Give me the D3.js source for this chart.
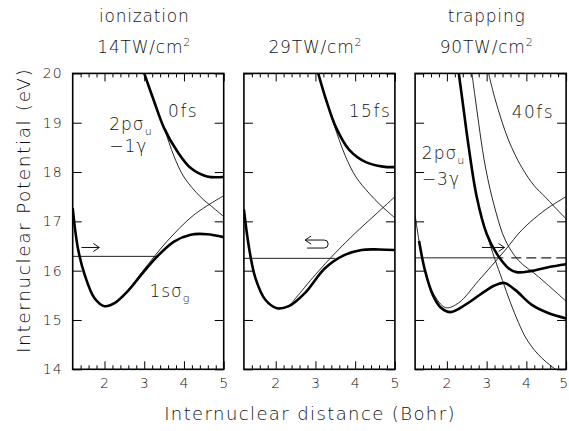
<!DOCTYPE html>
<html>
<head>
<meta charset="utf-8">
<script src="https://cdn.jsdelivr.net/npm/d3@7"></script>
<style>
  body { margin: 0; background: #fff; }
  svg text { font-family: "DejaVu Sans", sans-serif; font-weight: 200; fill: #111; }
</style>
</head>
<body>
<div id="chart"></div>
<script>
// --- data: [R (Bohr), E (eV)] ---
const headings = ["ionization", "", "trapping"];
const intensities = ["14", "29", "90"];
const times = ["0fs", "15fs", "40fs"];
const timeAnchors = [[3.6, 19.12], [3.84, 19.12], [3.63, 19.1]];
const xMajorTicks = [2, 3, 4, 5];
const xMinorTicks = [1.4, 1.6, 1.8, 2.2, 2.4, 2.6, 2.8, 3.2, 3.4, 3.6, 3.8, 4.2, 4.4, 4.6, 4.8];
const yTicks = [14, 15, 16, 17, 18, 19, 20];

// 14 TW/cm2, 0 fs
const lower14 = [[1.2,17.27],[1.33,16.46],[1.5,15.92],[1.75,15.44],[2.0,15.28],[2.25,15.34],[2.58,15.58],[3.0,15.99],[3.33,16.29],[3.75,16.59],[4.17,16.73],[4.58,16.74],[5.0,16.68]];
const upper14 = [[3.0,20.0],[3.25,19.43],[3.5,18.89],[3.83,18.42],[4.17,18.08],[4.58,17.91],[5.0,17.9]];
const sigmaU14 = [[3.0,20.0],[3.25,19.43],[3.5,18.89],[3.75,18.32],[4.0,17.9],[4.41,17.5],[4.7,17.3],[5.0,17.1]];
const sigmaG14 = [[2.0,15.28],[2.25,15.34],[2.58,15.6],[3.0,16.03],[3.58,16.6],[4.25,17.13],[5.0,17.52]];

// 29 TW/cm2, 15 fs
const lower29 = [[1.2,17.24],[1.33,16.46],[1.49,15.85],[1.74,15.41],[2.03,15.24],[2.33,15.28],[2.74,15.55],[3.24,16.05],[3.74,16.32],[4.16,16.42],[4.6,16.43],[5.0,16.42]];
const upper29 = [[3.07,20.0],[3.27,19.46],[3.52,18.9],[3.85,18.45],[4.27,18.2],[4.7,18.11],[5.0,18.1]];
const sigmaU29 = [[3.07,20.0],[3.27,19.46],[3.45,19.0],[3.75,18.33],[4.02,17.9],[4.35,17.57],[4.65,17.32],[5.0,17.07]];
const sigmaG29 = [[2.03,15.24],[2.33,15.29],[2.5,15.44],[3.0,15.92],[3.5,16.36],[4.0,16.76],[4.5,17.13],[5.0,17.5]];

// 90 TW/cm2, 40 fs
const lower90 = [[1.3,16.6],[1.45,16.0],[1.65,15.5],[1.85,15.25],[2.09,15.16],[2.47,15.31],[2.88,15.54],[3.2,15.7],[3.45,15.75],[3.72,15.61],[4.13,15.31],[4.55,15.14],[5.0,15.03]];
const upper90 = [[2.3,20.0],[2.4,19.4],[2.55,18.5],[2.75,17.5],[3.0,16.75],[3.25,16.35],[3.55,16.05],[3.75,15.97],[4.1,15.99],[4.55,16.07],[5.0,16.13]];
const sigmaU3g90 = [[2.3,20.0],[2.4,19.4],[2.55,18.5],[2.75,17.5],[3.0,16.75],[3.2,16.25],[3.4,15.8],[3.6,15.35],[3.8,14.95],[4.0,14.62],[4.3,14.3],[4.7,14.02],[5.0,13.88]];
const sigmaU2g90 = [[2.63,20.0],[2.72,19.46],[2.97,18.1],[3.22,17.23],[3.47,16.62],[3.8,16.21],[4.3,15.88],[5.0,15.38]];
const sigmaU1g90 = [[3.05,20.0],[3.22,19.46],[3.55,18.65],[3.88,18.1],[4.2,17.72],[4.47,17.5],[4.7,17.3],[5.0,17.05]];
const sigmaG90 = [[1.2,17.13],[1.3,16.6],[1.45,16.0],[1.65,15.55],[1.97,15.25],[2.3,15.35],[2.8,15.8],[3.47,16.42],[3.88,16.82],[4.47,17.23],[5.0,17.5]];

// vibrational level: [energy, R where solid part ends, dashed start or null]
const levels = [[16.29, 3.33, null], [16.25, 3.5, null], [16.26, 3.42, 3.62]];
// motion arrows: [R start, R end, E]
const arrows = [[1.42, 1.87, 16.47], [2.74, 3.22, 16.54], [2.88, 3.45, 16.47]];

const panels = [
  { thick: [lower14, upper14], thin: [sigmaU14, sigmaG14] },
  { thick: [lower29, upper29], thin: [sigmaU29, sigmaG29] },
  { thick: [lower90, upper90], thin: [sigmaU3g90, sigmaU2g90, sigmaU1g90, sigmaG90] }
];

// --- layout ---
const width = 569, height = 431;
const plotTop = 73.4, plotBottom = 369.3;
const left0 = 72.7, pw = 151, gap = 20.2;

const svg = d3.select("#chart").append("svg")
  .attr("width", width).attr("height", height);

const x = d3.scaleLinear().domain([1.2, 5]).range([0, pw]);
const y = d3.scaleLinear().domain([14, 20]).range([plotBottom, plotTop]);

svg.append("defs").append("clipPath").attr("id", "clip")
  .append("rect").attr("x", 0).attr("y", plotTop).attr("width", pw).attr("height", plotBottom - plotTop);

const line = d3.line().x(d => x(d[0])).y(d => y(d[1])).curve(d3.curveCatmullRom.alpha(0.5));

panels.forEach((p, i) => {
  const g = svg.append("g").attr("transform", `translate(${left0 + i * (pw + gap)},0)`);
  const plot = g.append("g").attr("clip-path", "url(#clip)");

  plot.selectAll(".thin").data(p.thin).join("path")
    .attr("d", line).attr("fill", "none").attr("stroke", "#111").attr("stroke-width", 0.9);

  // level line
  const lv = levels[i];
  plot.append("line")
    .attr("x1", x(1.2)).attr("x2", x(lv[1])).attr("y1", y(lv[0])).attr("y2", y(lv[0]))
    .attr("stroke", "#222").attr("stroke-width", 1);
  if (lv[2] !== null) {
    plot.append("line")
      .attr("x1", x(lv[2])).attr("x2", x(5)).attr("y1", y(lv[0])).attr("y2", y(lv[0]))
      .attr("stroke", "#222").attr("stroke-width", 1.1).attr("stroke-dasharray", "10,5");
  }

  plot.selectAll(".thick").data(p.thick).join("path")
    .attr("d", line).attr("fill", "none").attr("stroke", "#000").attr("stroke-width", 2.6);

  // arrow
  const a = arrows[i];
  const ax0 = x(a[0]), ax1 = x(a[1]), ay = y(a[2]);
  if (i === 1) {
    const yt = ay - 4, yb = ay + 4;
    g.append("path")
      .attr("d", `M${ax0},${yt} L${ax1},${yt} A4,4 0 0 1 ${ax1},${yb} L${ax0 + 2},${yb} M${ax0 + 6},${yt - 4} L${ax0},${yt} L${ax0 + 6},${yt + 4}`)
      .attr("fill", "none").attr("stroke", "#111").attr("stroke-width", 1);
  } else {
    g.append("path")
      .attr("d", `M${ax0},${ay} L${ax1},${ay} M${ax1 - 6},${ay - 4} L${ax1},${ay} L${ax1 - 6},${ay + 4}`)
      .attr("fill", "none").attr("stroke", "#111").attr("stroke-width", 1);
  }

  // frame
  g.append("rect").attr("x", 0).attr("y", plotTop).attr("width", pw).attr("height", plotBottom - plotTop)
    .attr("fill", "none").attr("stroke", "#000").attr("stroke-width", 1.6);

  // axes
  const bottomAxis = g.append("g").attr("transform", `translate(0,${plotBottom})`)
    .call(d3.axisBottom(x).tickValues(xMajorTicks).tickSize(-8).tickPadding(9).tickFormat(d3.format("d")));
  g.append("g").attr("transform", `translate(0,${plotBottom})`)
    .call(d3.axisBottom(x).tickValues(xMinorTicks).tickSize(-4).tickFormat(""));
  g.append("g").attr("transform", `translate(0,${plotTop})`)
    .call(d3.axisTop(x).tickValues(xMajorTicks).tickSize(-8).tickFormat(""));
  g.append("g").attr("transform", `translate(0,${plotTop})`)
    .call(d3.axisTop(x).tickValues(xMinorTicks).tickSize(-4).tickFormat(""));
  g.append("g")
    .call(d3.axisLeft(y).tickValues(yTicks).tickSize(-9).tickPadding(10).tickFormat(i === 0 ? d3.format("d") : ""));
  g.append("g").attr("transform", `translate(${pw},0)`)
    .call(d3.axisRight(y).tickValues(yTicks).tickSize(-9).tickFormat(""));

  g.selectAll(".domain").remove();
  g.selectAll(".tick line").attr("stroke", "#000").attr("stroke-width", 1);
  g.selectAll(".tick text").style("font-size", "14px").style("letter-spacing", "1px").attr("fill", "#111");
  // keep the last "5" inside the page
  if (i === 2) bottomAxis.selectAll(".tick text").filter(d => d === 5).attr("dx", -2.5);

  // headings
  if (headings[i]) {
    g.append("text").attr("x", pw / 2 - 4).attr("y", 22).attr("text-anchor", "middle")
      .style("font-size", "17px").style("letter-spacing", "0.8px").text(headings[i]);
  }
  const it = g.append("text").attr("x", pw / 2 - 4).attr("y", 53).attr("text-anchor", "middle")
    .style("font-size", "17px").style("letter-spacing", "0.8px");
  it.append("tspan").text(intensities[i] + "TW/cm");
  it.append("tspan").attr("dy", -7).style("font-size", "11px").text("2");

  // time stamp
  g.append("text").attr("x", x(timeAnchors[i][0])).attr("y", y(timeAnchors[i][1]))
    .style("font-size", "17px").style("letter-spacing", "1.5px").text(times[i]);
});

// curve labels
function stateLabel(g, px, py, main, sub) {
  const t = g.append("text").attr("x", px).attr("y", py).style("font-size", "17px").style("letter-spacing", "1px");
  t.append("tspan").text(main);
  t.append("tspan").attr("dy", 5).style("font-size", "11px").text(sub);
}
const g1 = svg.append("g").attr("transform", `translate(${left0},0)`);
stateLabel(g1, x(2.12), y(18.85), "2pσ", "u");
g1.append("text").attr("x", x(2.12)).attr("y", y(18.41)).style("font-size", "17px").style("letter-spacing", "1px").text("−1γ");
stateLabel(g1, x(3.13), y(15.47), "1sσ", "g");
const g3 = svg.append("g").attr("transform", `translate(${left0 + 2 * (pw + gap)},0)`);
stateLabel(g3, x(1.37), y(18.26), "2pσ", "u");
g3.append("text").attr("x", x(1.37)).attr("y", y(17.74)).style("font-size", "17px").style("letter-spacing", "1px").text("−3γ");

// axis titles
svg.append("text").attr("transform", `translate(30,${(plotTop + plotBottom) / 2 - 11}) rotate(-90)`)
  .attr("text-anchor", "middle").style("font-size", "18.5px").style("letter-spacing", "1.6px")
  .text("Internuclear Potential (eV)");
svg.append("text").attr("x", 310).attr("y", 420).attr("text-anchor", "middle")
  .style("font-size", "18px").style("letter-spacing", "1.4px")
  .text("Internuclear distance (Bohr)");
</script>
</body>
</html>
